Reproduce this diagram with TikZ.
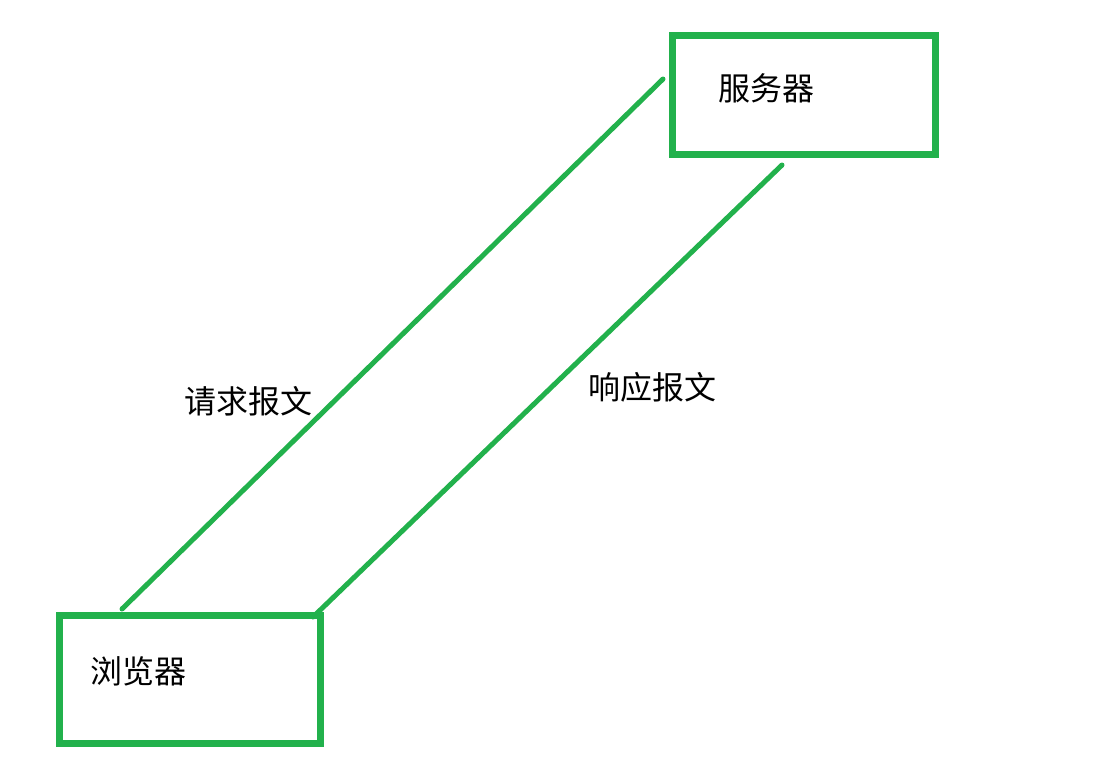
\documentclass[tikz,border=0pt]{standalone}
\usepackage{fontspec}
\newfontfamily\cjk{Noto Sans CJK SC}
\definecolor{pgreen}{RGB}{34,177,76}
\begin{document}
\begin{tikzpicture}[x=1pt,y=-1pt,
  box/.style={draw=pgreen,line width=7pt,minimum width=#1,inner sep=0pt,outer sep=0pt},
  lbl/.style={font=\cjk\fontsize{32}{36}\selectfont,inner sep=0pt},
  link/.style={draw=pgreen,line width=5pt,line cap=round}]
\useasboundingbox (0,0) rectangle (1094,776);
\node[box=263pt,minimum height=119pt] (server) at (804,95) {};
\node[box=261pt,minimum height=128pt] (browser) at (190,679.5) {};
\node[lbl] (tserver) at (766.5,88.5) {服务器};
\node[lbl] (tbrowser) at (138.5,671) {浏览器};
\node[lbl] (treq) at (248,401) {请求报文};
\node[lbl] (tresp) at (652,387.5) {响应报文};
\coordinate (r1) at (122,609);
\coordinate (r2) at (663,79);
\coordinate (s1) at (782,165);
\coordinate (s2) at (313,617);
\draw[link] (r1) -- (r2);
\draw[link] (s1) -- (s2);
\end{tikzpicture}
\end{document}
